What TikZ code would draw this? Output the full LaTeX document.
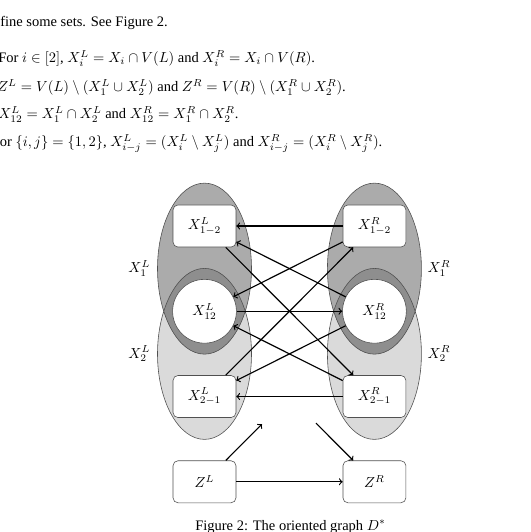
\documentclass[tikz,border=0pt]{standalone}
\usepackage{amsmath,amssymb}
\usepackage[no-math]{fontspec}
\setmainfont{Liberation Serif}
\usetikzlibrary{positioning,calc,backgrounds}
\definecolor{setdark}{HTML}{ABABAB}
\definecolor{setlight}{HTML}{DADADA}
\definecolor{setboth}{HTML}{8E8E8E}
\definecolor{rim}{HTML}{505050}

\begin{document}
\begin{tikzpicture}[
  x=0.6897pt,y=-0.6897pt,
  font=\normalsize,
  box/.style={draw=rim,rounded corners=3.4pt,fill=white,minimum width=43.4pt,minimum height=29pt,inner sep=1pt,line width=0.4pt},
  capdisc/.style={circle,draw=rim,fill=white,minimum size=44pt,inner sep=1pt,line width=0.4pt},
  arr/.style={->,thick,black},
  txt/.style={anchor=base west,inner sep=0pt},
  setname/.style={inner sep=0pt},
  on grid,
  node distance=58.8pt and 117.2pt]
\useasboundingbox (0,0) rectangle (531,532);
\node[txt] (intro) at (-16.9,26) {Define some sets. See Figure 2.};
\node[txt] (defx) at (-2,62.7) {For $i\in[2]$, $X_i^L = X_i\cap V(L)$ and $X_i^R = X_i\cap V(R)$.};
\node[txt] (defz) at (-3,91.7) {$Z^L = V(L)\setminus(X_1^L\cup X_2^L)$ and $Z^R = V(R)\setminus(X_1^R\cup X_2^R)$.};
\node[txt] (defcap) at (-2,118.5) {$X^L_{12} = X^L_1\cap X^L_2$ and $X^R_{12} = X^R_1\cap X^R_2$.};
\node[txt] (defdiff) at (-8.5,146.7) {For $\{i,j\}=\{1,2\}$, $X^L_{i-j} = (X^L_i\setminus X^L_j)$ and $X^R_{i-j} = (X^R_i\setminus X^R_j)$.};
\node[box] (l12) at (204.5,226) {$X^L_{1-2}$};
\node[capdisc,below=of l12] (lcap) {$X^L_{12}$};
\node[box,below=of lcap] (l21) {$X^L_{2-1}$};
\node[box,below=of l21] (zl) {$Z^L$};
\node[box,right=of l12] (r12) {$X^R_{1-2}$};
\node[capdisc,right=of lcap] (rcap) {$X^R_{12}$};
\node[box,right=of l21] (r21) {$X^R_{2-1}$};
\node[box,right=of zl] (zr) {$Z^R$};
\coordinate (zlend) at ($(zl)!0.338!(rcap)$);
\coordinate (zrbeg) at ($(lcap)!0.656!(zr)$);
\draw[arr] (r12) -- (l12);
\draw[arr] (rcap) -- (l12);
\draw[arr] (r12) -- (lcap);
\draw[arr] (l12) -- (r21);
\draw[arr] (l21) -- (r12);
\draw[arr] (lcap) -- (rcap);
\draw[arr] (r21) -- (lcap);
\draw[arr] (rcap) -- (l21);
\draw[arr] (r21) -- (l21);
\draw[arr] (zl) -- (zr);
\draw[arr] (zl) -- (zlend);
\draw[arr] (zrbeg) -- (zr);
\begin{scope}[on background layer]
\foreach \s in {l,r}{
  \coordinate (top\s) at ($(\s12)!0.5!(\s cap)$);
  \coordinate (bot\s) at ($(\s cap)!0.5!(\s21)$);
  \fill[setlight] (bot\s) ellipse [x radius=47,y radius=85.5];
  \fill[setdark] (top\s) ellipse [x radius=47,y radius=85.5];
  \begin{scope}
    \clip (top\s) ellipse [x radius=47,y radius=85.5];
    \fill[setboth] (bot\s) ellipse [x radius=47,y radius=85.5];
  \end{scope}
  \draw[rim,line width=0.4pt] (top\s) ellipse [x radius=47,y radius=85.5] (bot\s) ellipse [x radius=47,y radius=85.5];
}
\end{scope}
\node[setname,anchor=east] (lx1) at ($(topl)+(-54,0)$) {$X_1^L$};
\node[setname,anchor=east] (lx2) at ($(botl)+(-54,0)$) {$X_2^L$};
\node[setname,anchor=west] (rx1) at ($(topr)+(53,0)$) {$X_1^R$};
\node[setname,anchor=west] (rx2) at ($(botr)+(53,0)$) {$X_2^R$};
\node[txt] (caption) at (195,530) {Figure 2: The oriented graph $D^*$};
\end{tikzpicture}
\end{document}
